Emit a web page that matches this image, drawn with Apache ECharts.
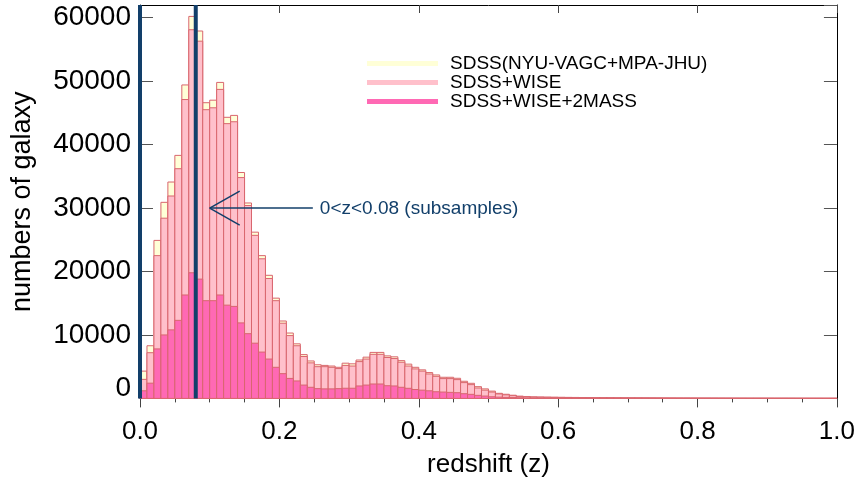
<!DOCTYPE html>
<html>
<head>
<meta charset="utf-8">
<script src="https://cdn.jsdelivr.net/npm/echarts@6/dist/echarts.min.js"></script>
<style>
html,body{margin:0;padding:0;background:#fff;}
#chart{width:858px;height:485px;}
</style>
</head>
<body>
<div id="chart"></div>
<script>
// histogram bins of width 0.01 over redshift 0..1
const binWidth = 0.01;
const binStarts = [];
for (let i = 0; i < 100; i++) binStarts.push(+(i * binWidth).toFixed(2));

const seriesNames = ['SDSS(NYU-VAGC+MPA-JHU)', 'SDSS+WISE', 'SDSS+WISE+2MASS'];

const countsSDSS = [
  4300, 8300, 24900, 30900, 34100, 38300, 49400, 60200, 57900, 46600,
  47000, 49800, 44300, 44600, 35600, 30800, 26200, 22500, 19400, 15800,
  12200, 10300, 8600, 6900, 5900, 5300, 5200, 5100, 4900, 5550,
  5450, 6050, 6500, 7250, 7250, 6700, 6550, 5950, 5400, 4900,
  4500, 4070, 3700, 3330, 3330, 3170, 2700, 2380, 1850, 1500,
  1150, 800, 650, 500, 350, 300,
  240, 220, 200, 185, 170, 160, 150, 140, 130, 120,
  110, 100, 95, 90, 85, 80, 75, 70, 65, 60,
  55, 50, 48, 45, 42, 40, 38, 35, 33, 30,
  28, 26, 25, 24, 22, 20, 19, 18, 17, 16,
  15, 14, 13, 12
];
const countsWISE = [
  3000, 7200, 22500, 28400, 31900, 36200, 47100, 58100, 56300, 45500,
  45800, 48700, 43300, 43600, 34800, 30400, 25700, 22000, 18900, 15400,
  11850, 9900, 8300, 6600, 5600, 5000, 5000, 4900, 4700, 5200,
  5100, 5800, 6200, 6950, 6950, 6450, 6280, 5700, 5100, 4650,
  4300, 3850, 3480, 3120, 3120, 2960, 2490, 2170, 1640, 1300,
  1000, 700, 560, 430, 310, 260,
  210, 190, 175, 160, 150, 140, 130, 120, 110, 100,
  95, 90, 85, 80, 75, 70, 65, 60, 55, 50,
  46, 42, 40, 38, 35, 33, 30, 28, 26, 24,
  22, 20, 19, 18, 17, 16, 15, 14, 13, 12,
  11, 10, 9, 8
];
const counts2MASS = [
  1200, 2400, 7800, 10000, 10800, 12300, 16300, 19800, 18800, 15400,
  15400, 16300, 14700, 14500, 11900, 10200, 8700, 7300, 6200, 4900,
  3900, 3150, 2750, 2100, 1750, 1540, 1500, 1500, 1540, 1600,
  1600, 1960, 2100, 2270, 2270, 2000, 1960, 1750, 1590, 1400,
  1300, 1200, 1050, 1000, 950, 900, 740, 640, 480, 370,
  260, 200, 160, 130, 100, 80,
  65, 55, 48, 42, 38, 34, 30, 27, 25, 23,
  21, 19, 18, 17, 16, 15, 14, 13, 12, 11,
  10, 10, 9, 9, 8, 8, 7, 7, 6, 6,
  6, 5, 5, 5, 4, 4, 4, 4, 3, 3,
  3, 3, 2, 2
];

const xTicks = [0.0, 0.2, 0.4, 0.6, 0.8, 1.0];
const yTicks = [0, 10000, 20000, 30000, 40000, 50000, 60000];

const subsampleLines = [0.0, 0.08];
const arrowTip = [0.10, 30000];
const arrowTailZ = 0.248;
const annotationText = '0<z<0.08 (subsamples)';

const fillColors = ['#FFFFD7', '#FFC0CB', '#FF69B4'];
const edgeColor = '#D9666E';
const navy = '#123F6A';
const FONT = '"Liberation Sans", Arial, Helvetica, sans-serif';

function binData(counts) {
  return counts.map((v, i) => [binStarts[i], +(binStarts[i] + binWidth).toFixed(2), v]);
}

function makeBarSeries(name, counts, color, z) {
  return {
    type: 'custom',
    name: name,
    z: z,
    itemStyle: { color: color },
    encode: { x: [0, 1], y: 2 },
    data: binData(counts),
    renderItem: function (params, api) {
      const p0 = api.coord([api.value(0), api.value(2)]);
      const p1 = api.coord([api.value(1), 0]);
      return {
        type: 'rect',
        shape: { x: p0[0], y: p0[1], width: p1[0] - p0[0], height: p1[1] - p0[1] },
        style: { fill: color, stroke: edgeColor, lineWidth: 1 }
      };
    }
  };
}

const yMax = 62000;

const chart = echarts.init(document.getElementById('chart'), null, { renderer: 'canvas' });

const option = {
  backgroundColor: '#ffffff',
  animation: false,
  textStyle: { fontFamily: FONT },
  grid: { left: 140, right: 21, top: 5, bottom: 86.6, containLabel: false },
  legend: {
    left: 367,
    top: 54,
    padding: 0,
    orient: 'vertical',
    itemWidth: 71,
    itemHeight: 5,
    itemGap: 0,
    icon: 'rect',
    textStyle: { fontSize: 19, color: '#000', fontFamily: FONT, lineHeight: 19, padding: [0, 0, 0, 7] },
    data: seriesNames.map((n, i) => ({ name: n, icon: 'rect', itemStyle: { color: fillColors[i], borderWidth: 0 } }))
  },
  xAxis: [
    {
      type: 'value', min: 0, max: 1, interval: 0.2, position: 'bottom',
      name: 'redshift (z)', nameLocation: 'middle', nameGap: 53,
      nameTextStyle: { fontSize: 26, color: '#000', fontFamily: FONT },
      axisLine: { show: true, onZero: false, lineStyle: { color: '#000', width: 1 } },
      axisTick: { show: true, inside: false, length: 9, lineStyle: { color: '#444' } },
      minorTick: { show: true, splitNumber: 4, length: 4, lineStyle: { color: '#444' } },
      axisLabel: { fontSize: 26, color: '#000', margin: 20, fontFamily: FONT,
        formatter: v => v.toFixed(1) },
      splitLine: { show: false }
    },
    {
      type: 'value', min: 0, max: 1, interval: 0.2, position: 'top',
      axisLine: { show: true, onZero: false, lineStyle: { color: '#000', width: 1 } },
      axisTick: { show: true, inside: true, length: 8, lineStyle: { color: '#444' } },
      axisLabel: { show: false },
      splitLine: { show: false }
    }
  ],
  yAxis: [
    {
      type: 'value', min: 0, max: yMax, interval: 10000, position: 'left',
      name: 'numbers of galaxy', nameLocation: 'middle', nameGap: 104,
      nameTextStyle: { fontSize: 27, color: '#000', fontFamily: FONT },
      axisLine: { show: true, onZero: false, lineStyle: { color: '#000', width: 1 } },
      axisTick: { show: true, inside: true, length: 13, lineStyle: { color: '#555' } },
      axisLabel: {
        fontSize: 28, color: '#000', margin: 9, fontFamily: FONT,
        showMaxLabel: false,
        formatter: v => (v === 0 ? '{zero|0}' : String(v)),
        rich: { zero: { fontSize: 28, color: '#000', fontFamily: FONT, padding: [0, 0, 20, 0] } }
      },
      splitLine: { show: false }
    },
    {
      type: 'value', min: 0, max: yMax, interval: 10000, position: 'right',
      axisLine: { show: true, onZero: false, lineStyle: { color: '#000', width: 1 } },
      axisTick: { show: true, inside: true, length: 13, lineStyle: { color: '#555' } },
      axisLabel: { show: false },
      splitLine: { show: false }
    }
  ],
  series: [
    makeBarSeries(seriesNames[0], countsSDSS, fillColors[0], 2),
    makeBarSeries(seriesNames[1], countsWISE, fillColors[1], 3),
    makeBarSeries(seriesNames[2], counts2MASS, fillColors[2], 4),
    {
      type: 'custom',
      name: 'subsample-lines',
      z: 10,
      silent: true,
      clip: false,
      encode: { x: 0 },
      data: subsampleLines.map(z => [z]),
      renderItem: function (params, api) {
        const top = api.coord([api.value(0), yMax]);
        const bot = api.coord([api.value(0), 0]);
        return {
          type: 'line',
          shape: { x1: top[0], y1: top[1], x2: bot[0], y2: bot[1] },
          style: { stroke: navy, lineWidth: 4 }
        };
      }
    },
    {
      type: 'custom',
      name: 'annotation',
      z: 11,
      silent: true,
      clip: false,
      encode: { x: 0, y: 1 },
      data: [[arrowTip[0], arrowTip[1], arrowTailZ]],
      renderItem: function (params, api) {
        const tip = api.coord([api.value(0), api.value(1)]);
        const tail = api.coord([api.value(2), api.value(1)]);
        return {
          type: 'group',
          children: [
            { type: 'line', shape: { x1: tip[0], y1: tip[1], x2: tail[0], y2: tail[1] }, style: { stroke: navy, lineWidth: 1.5 } },
            { type: 'line', shape: { x1: tip[0], y1: tip[1], x2: tip[0] + 30, y2: tip[1] - 17 }, style: { stroke: navy, lineWidth: 1.5 } },
            { type: 'line', shape: { x1: tip[0], y1: tip[1], x2: tip[0] + 30, y2: tip[1] + 17 }, style: { stroke: navy, lineWidth: 1.5 } },
            { type: 'text', style: { x: tail[0] + 7, y: tail[1] + 1, text: annotationText, fill: navy, fontSize: 19, fontFamily: FONT, verticalAlign: 'middle', align: 'left' } }
          ]
        };
      }
    }
  ]
};
chart.setOption(option);
</script>
</body>
</html>
